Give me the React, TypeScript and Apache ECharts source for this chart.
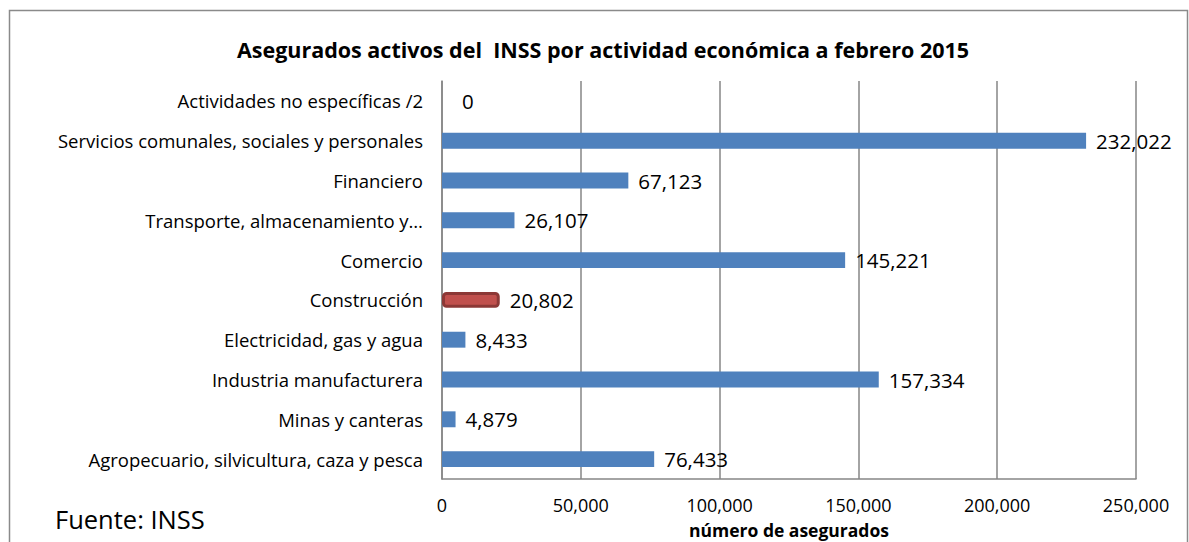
import React, { useEffect, useRef } from "react";
import * as echarts from "echarts";

const categories = [
  "Agropecuario, silvicultura, caza y pesca",
  "Minas y canteras",
  "Industria manufacturera",
  "Electricidad, gas y agua",
  "Construcción",
  "Comercio",
  "Transporte, almacenamiento y…",
  "Financiero",
  "Servicios comunales, sociales y personales",
  "Actividades no específicas /2",
];
const values = [76433, 4879, 157334, 8433, 20802, 145221, 26107, 67123, 232022, 0];
const highlighted = "Construcción";
const xTicks = { min: 0, max: 250000, interval: 50000 };

const FONT = "'Open Sans', Lato, sans-serif";

export default function App() {
  const ref = useRef<HTMLDivElement>(null);
  useEffect(() => {
    const chart = echarts.init(ref.current!, null, { renderer: "svg" });
    const fmt = (v: number) => v.toLocaleString("en-US");
    chart.setOption({
      animation: false,
      backgroundColor: "#ffffff",
      title: {
        text: "Asegurados activos del  INSS por actividad económica a febrero 2015",
        left: 598,
        top: 33,
        textAlign: "center",
        textStyle: { fontFamily: FONT, fontSize: 21.5, fontWeight: "bold", color: "#000" },
      },
      graphic: [
        {
          type: "rect",
          shape: { x: 9.5, y: 10.5, width: 1178, height: 560 },
          style: { fill: "none", stroke: "#8a8a8a", lineWidth: 1.5 },
          silent: true,
        },
        {
          type: "text",
          left: 55,
          top: 506,
          style: { text: "Fuente: INSS", fontFamily: FONT, fontSize: 25.5, fill: "#000" },
        },
      ],
      grid: {
        left: 442,
        right: 53,
        top: 81,
        bottom: 63,
        containLabel: false,
        outerBoundsMode: "none",
      },
      xAxis: {
        type: "value",
        min: xTicks.min,
        max: xTicks.max,
        interval: xTicks.interval,
        name: "número de asegurados",
        nameLocation: "middle",
        nameGap: 42,
        nameTextStyle: { fontFamily: FONT, fontSize: 17.5, fontWeight: "bold", color: "#000" },
        axisLine: { show: true, lineStyle: { color: "#868686", width: 1.5 } },
        axisTick: { show: false },
        axisLabel: {
          formatter: (v: number) => fmt(v),
          fontFamily: FONT,
          fontSize: 18,
          color: "#000",
          margin: 17,
        },
        splitLine: { show: true, lineStyle: { color: "#868686", width: 1.5 } },
      },
      yAxis: {
        type: "category",
        data: categories,
        axisLine: { show: true, lineStyle: { color: "#868686", width: 1.5 } },
        axisTick: { show: false },
        axisLabel: { fontFamily: FONT, fontSize: 18.5, color: "#000", margin: 19 },
      },
      series: [
        {
          type: "bar",
          barWidth: "40%",
          data: categories.map((c, i) => {
            if (c === highlighted) {
              return {
                value: values[i],
                itemStyle: {
                  color: "#C0504D",
                  borderColor: "#8C3836",
                  borderWidth: 3,
                  borderRadius: 3,
                },
              };
            }
            if (values[i] === 0) {
              return { value: values[i], label: { distance: 20 } };
            }
            return values[i];
          }),
          itemStyle: { color: "#4F81BD" },
          label: {
            show: true,
            position: "right",
            distance: 10,
            formatter: (p: any) => fmt(p.value),
            fontFamily: FONT,
            fontSize: 20.5,
            color: "#000",
          },
        },
      ],
    });
    return () => chart.dispose();
  }, []);
  return (
    <div
      ref={ref}
      style={{ position: "absolute", left: 0, top: 0, width: 1189, height: 542 }}
    />
  );
}
